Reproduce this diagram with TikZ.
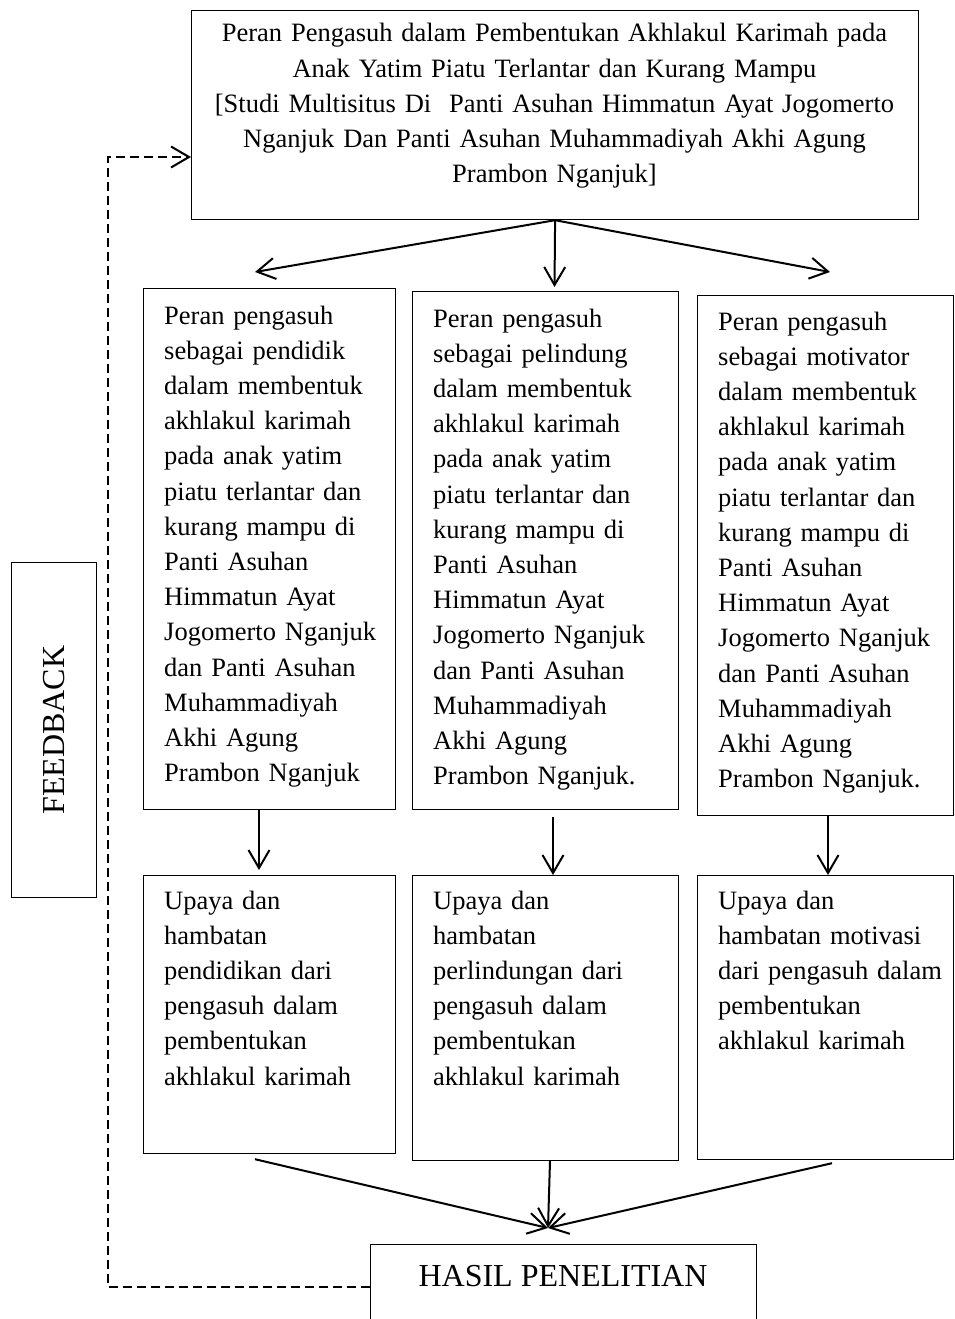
\documentclass[tikz,border=0pt]{standalone}
\usepackage{fontspec}
\setmainfont{Liberation Serif}
\usetikzlibrary{arrows.meta}

\begin{document}
\begin{tikzpicture}[x=1pt, y=-1pt,
    box/.style={draw, line width=1.2pt, anchor=north west, inner sep=0pt},
    txt/.style={anchor=base west, inner sep=0pt, align=left, text width=240pt, font=\fontsize{26.5}{35.2}\selectfont},
    big/.style={inner sep=0pt, font=\fontsize{32}{38}\selectfont},
    arr/.style={line width=2pt, -{Straight Barb[length=18pt,width=21pt]}},
    fb/.style={line width=2pt, dash pattern=on 9pt off 5pt, -{Straight Barb[length=18pt,width=21pt]}}]
\useasboundingbox (0,0) rectangle (955,1319);

\node[box, minimum width=727, minimum height=209] (top) at (191,10) {};
\node[anchor=base, inner sep=0pt, align=center, text width=720pt, font=\fontsize{26.5}{35.2}\selectfont] (toptxt) at (554.5,42)
  {Peran Pengasuh dalam Pembentukan Akhlakul Karimah pada\\ Anak Yatim Piatu Terlantar dan Kurang Mampu\\
   {[}Studi Multisitus Di\ \ Panti Asuhan Himmatun Ayat Jogomerto\\ Nganjuk Dan Panti Asuhan Muhammadiyah Akhi Agung\\ Prambon Nganjuk]};

\node[box, minimum width=252, minimum height=521] (p1) at (143,288) {};
\node[box, minimum width=266, minimum height=518] (p2) at (412,291) {};
\node[box, minimum width=256, minimum height=520] (p3) at (697,295) {};
\node[txt] (p1t) at (164,324) {Peran pengasuh\\ sebagai pendidik\\ dalam membentuk\\ akhlakul karimah\\ pada anak yatim\\ piatu terlantar dan\\ kurang mampu di\\ Panti Asuhan\\ Himmatun Ayat\\ Jogomerto Nganjuk\\ dan Panti Asuhan\\ Muhammadiyah\\ Akhi Agung\\ Prambon Nganjuk};
\node[txt] (p2t) at (433,327) {Peran pengasuh\\ sebagai pelindung\\ dalam membentuk\\ akhlakul karimah\\ pada anak yatim\\ piatu terlantar dan\\ kurang mampu di\\ Panti Asuhan\\ Himmatun Ayat\\ Jogomerto Nganjuk\\ dan Panti Asuhan\\ Muhammadiyah\\ Akhi Agung\\ Prambon Nganjuk.};
\node[txt] (p3t) at (718,330) {Peran pengasuh\\ sebagai motivator\\ dalam membentuk\\ akhlakul karimah\\ pada anak yatim\\ piatu terlantar dan\\ kurang mampu di\\ Panti Asuhan\\ Himmatun Ayat\\ Jogomerto Nganjuk\\ dan Panti Asuhan\\ Muhammadiyah\\ Akhi Agung\\ Prambon Nganjuk.};

\node[box, minimum width=252, minimum height=278] (u1) at (143,875) {};
\node[box, minimum width=266, minimum height=285] (u2) at (412,875) {};
\node[box, minimum width=256, minimum height=284] (u3) at (697,875) {};
\node[txt] (u1t) at (164,909) {Upaya dan\\ hambatan\\ pendidikan dari\\ pengasuh dalam\\ pembentukan\\ akhlakul karimah};
\node[txt] (u2t) at (433,909) {Upaya dan\\ hambatan\\ perlindungan dari\\ pengasuh dalam\\ pembentukan\\ akhlakul karimah};
\node[txt] (u3t) at (718,909) {Upaya dan\\ hambatan motivasi\\ dari pengasuh dalam\\ pembentukan\\ akhlakul karimah};

\node[box, minimum width=386, minimum height=84] (hasil) at (370,1244) {};
\node[big, anchor=base] (hasilt) at (563,1286) {HASIL PENELITIAN};
\node[box, minimum width=85, minimum height=335] (fbbox) at (11,562) {};
\node[big, rotate=90] (fbt) at (fbbox.center) {FEEDBACK};

\coordinate (t1) at (255,272);
\coordinate (t2) at (554.5,287);
\coordinate (t3) at (830,272);
\coordinate (meet) at (548,1228);
\coordinate (fbc) at (108,157);

\draw[arr] (top.south) -- (t1);
\draw[arr] (top.south) -- (t2);
\draw[arr] (top.south) -- (t3);
\draw[arr] ([xshift=116pt]p1.south west) -- ([xshift=116pt,yshift=5pt]u1.north west);
\draw[arr] ([xshift=141pt,yshift=-7pt]p2.south west) -- ([xshift=141pt]u2.north west);
\draw[arr] ([xshift=131pt]p3.south west) -- ([xshift=131pt]u3.north west);
\draw[arr] ([xshift=112pt,yshift=-5pt]u1.south west) -- (meet);
\draw[arr] ([xshift=138pt]u2.south west) -- (meet);
\draw[arr] ([xshift=135pt,yshift=-3pt]u3.south west) -- (meet);
\draw[fb] (hasil.west) -| (fbc) -- (fbc -| top.west);
\end{tikzpicture}
\end{document}
